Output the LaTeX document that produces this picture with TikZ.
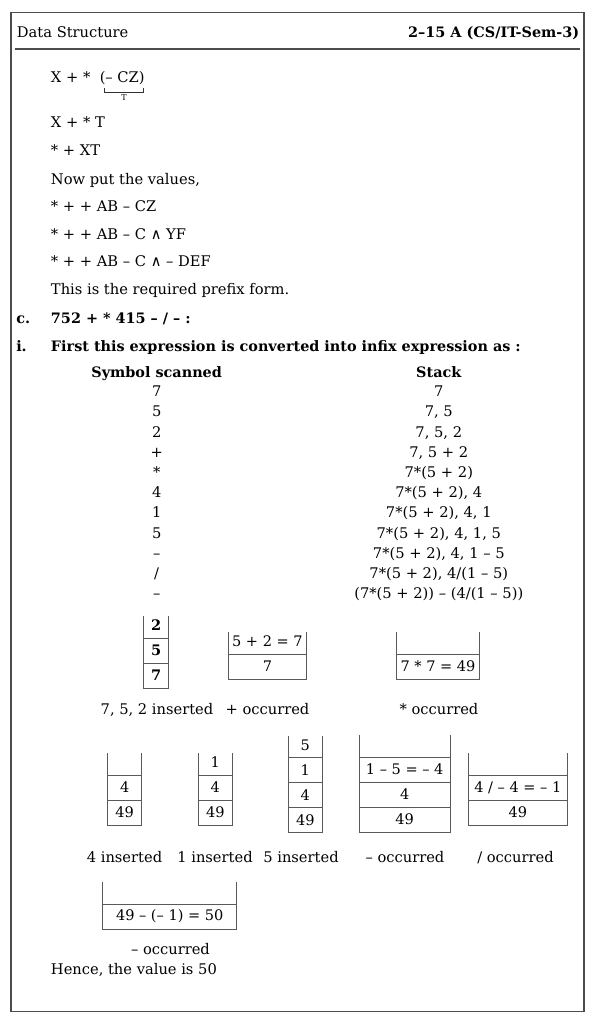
\documentclass[tikz,border=0pt]{standalone}
\usepackage{fontspec}
\setmainfont{DejaVu Serif}
\begin{document}
\begin{tikzpicture}[x=0.75pt, y=-0.75pt,
    txt/.style={anchor=base west, inner sep=0pt, text=black,
      font=\fontsize{11}{13}\selectfont},
    bold/.style={txt, font=\fontsize{10.8}{13}\selectfont\bfseries},
    mid/.style={txt, anchor=base},
    cell/.style={inner sep=0pt, text=black, font=\fontsize{10.9}{13}\selectfont},
    stk/.style={draw=black!65, line width=0.7pt}]
  \useasboundingbox (0,0) rectangle (596,1024);

  % page frame and header
  \draw[black!70, line width=1.1pt] (11,12.7) rectangle (584,1011.5);
  \node[txt] (hleft) at (16.7,37.7) {Data Structure};
  \node[bold, anchor=base east] (hright) at (579.5,37.7) {2–15 A (CS/IT-Sem-3)};
  \draw[black!70, line width=1pt] (14.7,49) -- (580,49);

  % prefix steps
  \node[txt] (l1) at (50.7,82.7) {X + *};
  \node[txt] (cz) at (99.5,82.7) {(– CZ)};
  \draw[black!80, line width=0.6pt] (104.3,88.3) -- (104.3,92) -- (143.3,92) -- (143.3,88.3);
  \node[inner sep=0pt, font=\fontsize{6}{7}\selectfont] (t) at (124,98) {T};
  \node[txt] (l2) at (50.7,127.2) {X + * T};
  \node[txt] (l3) at (50.7,155.2) {* + XT};
  \node[txt] (l4) at (50.7,184) {Now put the values,};
  \node[txt] (l5) at (50.7,211.2) {* + + AB – CZ};
  \node[txt] (l6) at (50.7,239.2) {* + + AB – C ∧ YF};
  \node[txt] (l7) at (50.7,266.5) {* + + AB – C ∧ – DEF};
  \node[txt] (l8) at (50.7,294.5) {This is the required prefix form.};
  \node[bold] (c) at (16,323) {c.};
  \node[bold] (l9) at (50.7,323) {752 + * 415 – / – :};
  \node[bold] (i) at (16,351) {i.};
  \node[bold] (l10) at (50.7,351) {First this expression is converted into infix expression as :};

  % symbol scanned / stack table
  \node[bold, anchor=base] (hsym) at (156.7,377) {Symbol scanned};
  \node[bold, anchor=base] (hstk) at (438.8,377) {Stack};
  \foreach \sym/\stack [count=\i from 0] in {7/7, 5/{7, 5}, 2/{7, 5, 2}, +/{7, 5 + 2},
      */{7*(5 + 2)}, 4/{7*(5 + 2), 4}, 1/{7*(5 + 2), 4, 1}, 5/{7*(5 + 2), 4, 1, 5},
      –/{7*(5 + 2), 4, 1 – 5}, {/}/{7*(5 + 2), 4/(1 – 5)}, –/{(7*(5 + 2)) – (4/(1 – 5))}}
  {
    \node[mid] (sym\i) at (156.7,{396.7+20.2*\i}) {\sym};
    \node[mid] (stk\i) at (438.8,{396.7+20.2*\i}) {\stack};
  }

  % stacks: name/centre x/width/bottom y/cells/cell list (bottom to top)
  \foreach \nm/\x/\w/\yb/\n/\cells in {
      A/156.3/24.7/688/3/{{\textbf{7}},{\textbf{5}},{\textbf{2}}},
      B/267.4/77.3/679/2/{{7},{5 + 2 = 7}},
      C/438/82.6/679/2/{{7 * 7 = 49},{}},
      D/124.7/34/825/3/{{49},{4},{}},
      E/215.3/34/825/3/{{49},{4},{1}},
      F/305.3/34/832.5/4/{{49},{4},{1},{5}},
      G/404.7/90.7/832/4/{{49},{4},{1 – 5 = – 4},{}},
      H/517.8/99/825/3/{{49},{4 / – 4 = – 1},{}},
      I/169.7/134/929/2/{{49 – (– 1) = 50},{}}}
  {
    \pgfmathsetmacro\ytop{\yb-25*(\n-1)-22}
    \pgfmathtruncatemacro\m{\n-1}
    \draw[stk] ({\x-\w/2},\ytop) -- ({\x-\w/2},\yb) -- ({\x+\w/2},\yb) -- ({\x+\w/2},\ytop);
    \foreach \j in {1,...,\m}
      \draw[stk] ({\x-\w/2},{\yb-25*\j}) -- ({\x+\w/2},{\yb-25*\j});
    \foreach \c [count=\k] in \cells
      \node[cell] (st\nm-\k) at (\x,{\yb-25*(\k-1)-12.5}) {\c};
  }

  % captions under the stacks
  \node[mid] (capA) at (157,714) {7, 5, 2 inserted};
  \node[mid] (capB) at (267.5,714) {+ occurred};
  \node[mid] (capC) at (439,714) {* occurred};
  \node[mid] (capD) at (124.5,862) {4 inserted};
  \node[mid] (capE) at (215,862) {1 inserted};
  \node[mid] (capF) at (301,862) {5 inserted};
  \node[mid] (capG) at (405,862) {– occurred};
  \node[mid] (capH) at (515.5,862) {/ occurred};
  \node[mid] (capI) at (170.5,954) {– occurred};
  \node[txt] (last) at (50.7,974) {Hence, the value is 50};
\end{tikzpicture}
\end{document}
